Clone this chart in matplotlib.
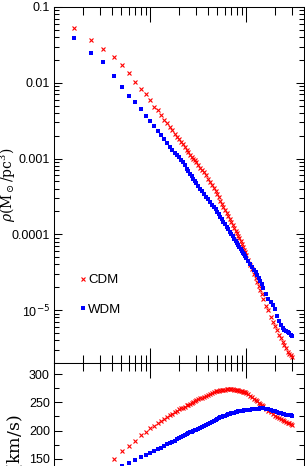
import numpy as np
import matplotlib
matplotlib.use('Agg')
import matplotlib.pyplot as plt
from matplotlib.ticker import LogLocator, MultipleLocator, NullFormatter

plt.rcParams['font.family'] = ['Liberation Sans', 'DejaVu Sans']

# radius (kpc)
radius = [0.16, 0.24, 0.32, 0.42, 0.51, 0.6, 0.7, 0.8, 0.9, 1.0,
          1.1, 1.2, 1.3, 1.4, 1.5, 1.6, 1.7, 1.8, 1.9, 2.0,
          2.1, 2.2, 2.3, 2.4, 2.5, 2.6, 2.7, 2.8, 2.9, 3.0,
          3.15, 3.3, 3.45, 3.6, 3.8, 4.0, 4.2, 4.4, 4.6, 4.8,
          5.0, 5.2, 5.4, 5.6, 5.8, 6.0, 6.25, 6.5, 6.75, 7.0,
          7.25, 7.5, 7.75, 8.0, 8.25, 8.5, 8.75, 9.0, 9.25, 9.5,
          9.75, 10, 10.5, 11, 11.5, 12, 12.5, 13, 13.5, 14,
          14.5, 15, 16, 17, 18, 19, 20, 21, 22, 23,
          24, 25, 26, 27, 28, 29, 30]

# density profiles (Msun/pc^3)
rho_cdm = [0.0524, 0.0362, 0.0281, 0.0221, 0.01694, 0.01333, 0.0102, 0.00835, 0.00706, 0.00586,
           0.0048, 0.00432, 0.00372, 0.00327, 0.00292, 0.00261, 0.00235, 0.00213, 0.00195, 0.00181,
           0.00167, 0.00154, 0.00142, 0.00131, 0.001217, 0.00113, 0.001063, 0.001, 9.46e-4, 8.94e-4,
           8.25e-4, 7.61e-4, 7.07e-4, 6.57e-4, 5.98e-4, 5.44e-4, 4.94e-4, 4.48e-4, 4.10e-4, 3.75e-4,
           3.39e-4, 3.07e-4, 2.79e-4, 2.53e-4, 2.32e-4, 2.12e-4, 1.92e-4, 1.74e-4, 1.59e-4, 1.45e-4,
           1.325e-4, 1.21e-4, 1.114e-4, 1.026e-4, 9.51e-5, 8.81e-5, 8.10e-5, 7.44e-5, 6.82e-5, 6.25e-5,
           5.77e-5, 5.32e-5, 4.57e-5, 3.93e-5, 3.43e-5, 2.99e-5, 2.63e-5, 2.32e-5, 2.07e-5, 1.84e-5,
           1.61e-5, 1.41e-5, 1.143e-5, 9.88e-6, 8.13e-6, 6.9e-6, 6.07e-6, 5.38e-6, 4.75e-6, 4.26e-6,
           3.81e-6, 3.44e-6, 3.12e-6, 2.83e-6, 2.63e-6, 2.52e-6, 2.41e-6]
rho_wdm = [0.0393, 0.02508, 0.01902, 0.01235, 0.00887, 0.00663, 0.0055, 0.00446, 0.00368, 0.0031,
           0.00266, 0.00232, 0.00204, 0.00182, 0.00161, 0.00141, 0.00129, 0.00119, 0.00111, 0.00104,
           9.67e-4, 8.99e-4, 8.15e-4, 7.38e-4, 6.79e-4, 6.24e-4, 5.81e-4, 5.41e-4, 5.07e-4, 4.75e-4,
           4.35e-4, 3.99e-4, 3.70e-4, 3.44e-4, 3.15e-4, 2.89e-4, 2.66e-4, 2.45e-4, 2.28e-4, 2.13e-4,
           1.99e-4, 1.86e-4, 1.71e-4, 1.58e-4, 1.47e-4, 1.37e-4, 1.264e-4, 1.166e-4, 1.081e-4, 1.002e-4,
           9.37e-5, 8.76e-5, 8.19e-5, 7.66e-5, 7.20e-5, 6.77e-5, 6.39e-5, 6.03e-5, 5.73e-5, 5.44e-5,
           5.17e-5, 4.92e-5, 4.46e-5, 4.05e-5, 3.72e-5, 3.42e-5, 3.15e-5, 2.9e-5, 2.64e-5, 2.41e-5,
           2.18e-5, 1.98e-5, 1.65e-5, 1.418e-5, 1.275e-5, 1.182e-5, 1.031e-5, 8.46e-6, 7.16e-6, 6.34e-6,
           5.79e-6, 5.53e-6, 5.28e-6, 5.12e-6, 4.97e-6, 4.75e-6, 4.61e-6]

# circular velocity (km/s)
vc_cdm = [100, 118, 132, 149.3, 162.9, 172.0, 181.6, 191.4, 197.5, 203.9,
          208.8, 213.0, 217.5, 220.9, 224.5, 227.0, 229.6, 232.5, 235.0, 237.5,
          239.2, 240.9, 242.7, 244.5, 246.1, 247.7, 249.3, 250.9, 252.4, 253.8,
          255.5, 257.1, 258.7, 260.2, 262.0, 263.8, 265.7, 267.5, 268.6, 269.6,
          270.4, 271.1, 271.5, 271.8, 272.3, 272.7, 273.0, 273.2, 273.3, 273.2,
          273.1, 272.9, 272.5, 272.1, 271.6, 271.1, 270.6, 270.0, 269.3, 268.6,
          267.7, 266.8, 264.4, 262.0, 259.4, 256.8, 254.6, 252.3, 249.8, 247.3,
          245.2, 243.2, 238.9, 235.4, 232.1, 229.3, 226.6, 224.5, 222.3, 220.4,
          218.6, 216.6, 215.2, 213.9, 212.7, 211.4, 210.4]
vc_wdm = [85, 105, 118, 128, 136.6, 142.9, 146.8, 152.1, 156.4, 160.2,
          163.4, 166.8, 169.6, 172.5, 175.2, 177.5, 179.8, 182.0, 184.5, 187.1,
          189.1, 191.1, 192.6, 194.1, 195.5, 196.8, 198.2, 199.5, 200.5, 201.4,
          203.0, 204.5, 206.0, 207.5, 209.5, 211.4, 213.3, 215.2, 217.1, 218.9,
          220.4, 221.8, 223.2, 224.5, 225.5, 226.4, 227.5, 228.6, 229.5, 230.4,
          231.2, 232.0, 232.7, 233.4, 233.9, 234.3, 234.7, 235.0, 235.4, 235.7,
          236.0, 236.3, 236.7, 237.1, 237.7, 238.2, 238.5, 238.8, 239.1, 239.3,
          239.3, 239.3, 238.8, 237.9, 236.4, 235.2, 233.9, 232.5, 231.3, 230.4,
          229.5, 228.6, 228.0, 227.5, 227.1, 226.8, 226.4]

rho_ticks = [0.1, 0.01, 0.001, 0.0001, 1e-5]
rho_ticklabels = ['0.1', '0.01', '0.001', '0.0001', r'10$^{-5}$']

fig = plt.figure(figsize=(3.05, 4.66), dpi=100)
ax1 = fig.add_axes([0.177, 0.221, 0.820, 0.764])
ax2 = fig.add_axes([0.177, -0.105, 0.820, 0.326], sharex=ax1)

ax1.loglog(radius, rho_cdm, 'x', color='red', ms=3.4, mew=0.8, label='CDM')
ax1.loglog(radius, rho_wdm, 's', color='blue', ms=2.6, mew=0, label='WDM')
ax1.set_xlim(0.1, 40)
ax1.set_ylim(2e-6, 0.1)
ax1.set_yticks(rho_ticks, rho_ticklabels)
ax1.yaxis.set_minor_locator(LogLocator(subs=np.arange(2, 10)))
ax1.yaxis.set_minor_formatter(NullFormatter())
ax1.set_ylabel(r'$\rho(\mathrm{M_\odot/pc^3})$', math_fontfamily='dejavuserif',
               fontsize=10)
ax1.yaxis.set_label_coords(-0.142, 0.5)
ax1.legend(loc='center left', bbox_to_anchor=(0.098, 0.191), frameon=False,
           numpoints=1, handlelength=0.7, handletextpad=0.05, labelspacing=1.3,
           borderpad=0, borderaxespad=0, fontsize=9.5)

ax2.plot(radius, vc_cdm, 'x', color='red', ms=3.4, mew=0.8)
ax2.plot(radius, vc_wdm, 's', color='blue', ms=2.6, mew=0)
ax2.set_ylim(50, 320)
ax2.yaxis.set_major_locator(MultipleLocator(50))
ax2.yaxis.set_minor_locator(MultipleLocator(25))
ax2.set_ylabel(r'$\mathrm{V_c\ (km/s)}$', math_fontfamily='dejavuserif',
               fontsize=12.5)
ax2.yaxis.set_label_coords(-0.116, 0.391)

for ax in (ax1, ax2):
    ax.tick_params(which='both', direction='in', top=True, right=True,
                   width=0.75, labelsize=9, pad=3)
    ax.tick_params(axis='x', which='major', length=11)
    ax.tick_params(axis='x', which='minor', length=6)
    ax.tick_params(axis='y', which='major', length=6)
    ax.tick_params(axis='y', which='minor', length=3.5)
    for s in ax.spines.values():
        s.set_linewidth(0.75)
ax1.tick_params(axis='x', which='both', labelbottom=False)
ax2.tick_params(axis='x', which='both', labelbottom=False)

fig.savefig('out.png', dpi=100)
